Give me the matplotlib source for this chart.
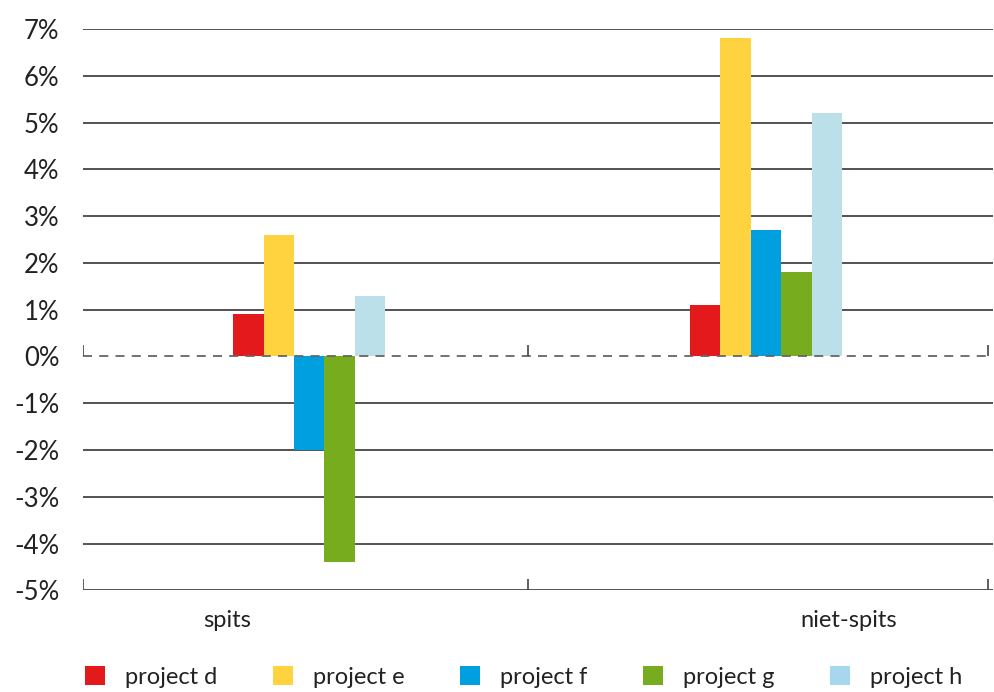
import matplotlib
matplotlib.use("Agg")
import matplotlib.pyplot as plt
from matplotlib.patches import Patch
import numpy as np

# data (percent)
categories = ["spits", "niet-spits"]
projects = ["project d", "project e", "project f", "project g", "project h"]
project_d = [0.9, 1.1]
project_e = [2.6, 6.8]
project_f = [-2.0, 2.7]
project_g = [-4.4, 1.8]
project_h = [1.3, 5.2]
yticks = list(range(-5, 8))

colors = ["#E3191B", "#FFD23F", "#009FDF", "#77AC1E", "#BBE0EA"]
legend_colors = ["#E3191B", "#FFD23F", "#009FDF", "#77AC1E", "#A6D7EE"]

plt.rcParams["font.family"] = ["Lato", "DejaVu Sans"]

fig = plt.figure(figsize=(9.95, 6.92), dpi=100)
ax = fig.add_axes([0.0834, 0.147, 0.915, 0.811])

group_centers = np.array([0.502, 1.515])
label_pos = [0.32, 1.70]   # category labels sit left of the group in the original
separators = [0, 0.987, 2.008]
width = 0.0676

series = [project_d, project_e, project_f, project_g, project_h]
for i, (vals, c) in enumerate(zip(series, colors)):
    x = group_centers + (i - 2) * width
    ax.bar(x, vals, width=width, color=c, zorder=3, linewidth=0)

# horizontal grid lines, dashed at zero
for t in yticks:
    if t == 0:
        ax.axhline(t, color="#666666", lw=1.3, ls=(0, (5, 4)), zorder=4)
    else:
        ax.axhline(t, color="#444444", lw=1.3, zorder=1)

# little category separators on the zero line and bottom line
ax.vlines(separators, 0, 0.25, color="#444444", lw=1.2, zorder=4)
ax.vlines(separators, -5, -4.75, color="#444444", lw=1.2, zorder=4)

ax.set_xlim(0, 2.02)
ax.set_ylim(-5, 7)
ax.set_yticks(yticks)
ax.set_yticklabels([f"{t}%" for t in yticks], fontsize=18.5, color="#222222")
ax.set_xticks(label_pos)
ax.set_xticklabels(categories, fontsize=17, color="#222222")
ax.tick_params(axis="y", length=0, pad=17)
ax.tick_params(axis="x", length=0, pad=14)
for s in ax.spines.values():
    s.set_visible(False)

handles = [Patch(facecolor=c, edgecolor="none") for c in legend_colors]
fig.legend(handles, projects, loc="center left", bbox_to_anchor=(0.0854, 0.022),
           ncol=5, frameon=False, fontsize=17, handlelength=0.85, handleheight=0.85,
           handletextpad=0.85, columnspacing=2.35, borderpad=0, borderaxespad=0,
           labelcolor="#222222")

fig.savefig("out.png", dpi=100)
